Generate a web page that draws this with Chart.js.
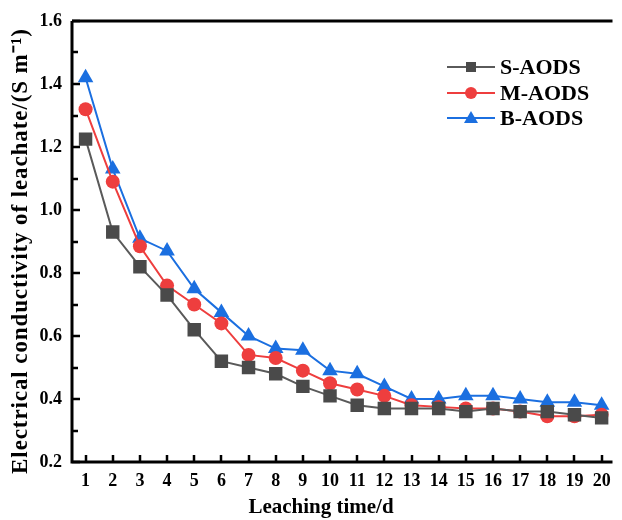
<!DOCTYPE html>
<html>
<head>
<meta charset="utf-8">
<script src="https://cdn.jsdelivr.net/npm/chart.js@4"></script>
<style>
  body { margin: 0; background: #fff; }
  #box { width: 622px; height: 520px; }
</style>
</head>
<body>
<div id="box"><canvas id="ecChart" width="622" height="520"></canvas></div>
<script>
// 浸出時間（日）
const days = [1, 2, 3, 4, 5, 6, 7, 8, 9, 10, 11, 12, 13, 14, 15, 16, 17, 18, 19, 20];
const sAods = [1.225, 0.93, 0.82, 0.73, 0.62, 0.52, 0.50, 0.48, 0.44, 0.41, 0.38, 0.37, 0.37, 0.37, 0.36, 0.37, 0.36, 0.36, 0.35, 0.34];
const mAods = [1.32, 1.09, 0.885, 0.76, 0.70, 0.64, 0.54, 0.53, 0.49, 0.45, 0.43, 0.41, 0.38, 0.375, 0.37, 0.37, 0.36, 0.345, 0.345, 0.35];
const bAods = [1.42, 1.13, 0.91, 0.87, 0.75, 0.675, 0.60, 0.56, 0.555, 0.49, 0.48, 0.44, 0.40, 0.40, 0.41, 0.41, 0.40, 0.39, 0.39, 0.38];
const yTicks = [0.2, 0.4, 0.6, 0.8, 1.0, 1.2, 1.4, 1.6];
const xTitle = 'Leaching time/d';
const yTitle = 'Electrical conductivity of leachate/(S m\u207B\u00B9)';

const serif = '"Liberation Serif", "Times New Roman", serif';

function toXY(ys) {
  return ys.map((v, i) => ({ x: days[i], y: v }));
}

const series = [
  { label: 'S-AODS', data: sAods, color: '#4a4a4a', line: '#5a5a5a', style: 'rect', r: 9.5 },
  { label: 'M-AODS', data: mAods, color: '#ee3e3e', line: '#ee3e3e', style: 'circle', r: 7 },
  { label: 'B-AODS', data: bAods, color: '#1b6fe0', line: '#1b6fe0', style: 'triangle', r: 9 }
];

// 軸線・内向き目盛・凡例・軸タイトル
const framePlugin = {
  id: 'frame',
  afterDraw(chart) {
    const ctx = chart.ctx;
    const a = chart.chartArea;
    const xs = chart.scales.x, ys = chart.scales.y;
    ctx.save();
    ctx.strokeStyle = '#000';
    ctx.lineWidth = 3;
    ctx.beginPath();
    ctx.moveTo(a.left, a.top);
    ctx.lineTo(a.right, a.top);
    ctx.moveTo(a.left, a.top);
    ctx.lineTo(a.left, a.bottom);
    ctx.lineTo(a.right, a.bottom);
    ctx.stroke();

    ctx.lineWidth = 2.5;
    ctx.beginPath();
    for (let v = 0.2; v <= 1.6001; v += 0.1) {
      const py = Math.round(ys.getPixelForValue(v));
      const major = Math.round(v * 10) % 2 === 0;
      ctx.moveTo(a.left, py);
      ctx.lineTo(a.left + (major ? 8 : 6), py);
    }
    days.forEach(d => {
      const px = Math.round(xs.getPixelForValue(d));
      ctx.moveTo(px, a.bottom);
      ctx.lineTo(px, a.bottom - 7);
    });
    ctx.stroke();

    // x軸タイトル
    ctx.fillStyle = '#000';
    ctx.font = 'bold 21px ' + serif;
    ctx.textAlign = 'center';
    ctx.textBaseline = 'middle';
    ctx.fillText(xTitle, 321, 508);

    // y軸タイトル
    ctx.save();
    ctx.translate(21, 251);
    ctx.rotate(-Math.PI / 2);
    ctx.font = 'bold 23px ' + serif;
    ctx.letterSpacing = '0.9px';
    ctx.fillText(yTitle, 0, 0);
    ctx.restore();

    // 凡例
    const lx0 = 447, lx1 = 495, tx = 500;
    const rows = [67, 93, 118];
    ctx.font = 'bold 22px ' + serif;
    ctx.textAlign = 'left';
    series.forEach((s, i) => {
      const y = rows[i];
      ctx.strokeStyle = s.line;
      ctx.lineWidth = 2;
      ctx.beginPath();
      ctx.moveTo(lx0, y);
      ctx.lineTo(lx1, y);
      ctx.stroke();
      ctx.fillStyle = s.color;
      const cx = (lx0 + lx1) / 2;
      ctx.beginPath();
      if (s.style === 'rect') {
        ctx.rect(cx - 5, y - 5, 10, 10);
      } else if (s.style === 'circle') {
        ctx.arc(cx, y, 6, 0, Math.PI * 2);
      } else {
        ctx.moveTo(cx, y - 7);
        ctx.lineTo(cx + 7, y + 5);
        ctx.lineTo(cx - 7, y + 5);
        ctx.closePath();
      }
      ctx.fill();
      ctx.fillStyle = '#000';
      ctx.fillText(s.label, tx, y + 1);
    });
    ctx.restore();
  }
};

const ctx = document.getElementById('ecChart').getContext('2d');
window.ecChart = new Chart(ctx, {
  type: 'line',
  data: {
    datasets: series.map(s => ({
      label: s.label,
      data: toXY(s.data),
      borderColor: s.line,
      backgroundColor: s.color,
      borderWidth: 2,
      pointStyle: s.style,
      pointRadius: s.r,
      pointHoverRadius: s.r,
      pointBorderWidth: 0,
      tension: 0
    }))
  },
  options: {
    responsive: false,
    animation: false,
    layout: { padding: { top: 21, right: 0, left: 0, bottom: 0 } },
    plugins: {
      legend: { display: false },
      tooltip: { enabled: false }
    },
    scales: {
      x: {
        type: 'linear',
        min: 0.5,
        max: 20.4,
        afterBuildTicks(scale) {
          scale.ticks = days.map(v => ({ value: v }));
        },
        afterFit(scale) { scale.height = 58; },
        grid: { display: false, drawTicks: false },
        border: { display: false },
        ticks: {
          padding: 9,
          color: '#000',
          font: { family: serif, size: 18, weight: 'bold' }
        }
      },
      y: {
        min: 0.2,
        max: 1.6,
        afterBuildTicks(scale) {
          scale.ticks = yTicks.map(v => ({ value: v }));
        },
        afterFit(scale) { scale.width = 72; },
        grid: { display: false, drawTicks: false },
        border: { display: false },
        ticks: {
          padding: 10,
          color: '#000',
          font: { family: serif, size: 18, weight: 'bold' },
          callback: v => v.toFixed(1)
        }
      }
    }
  },
  plugins: [framePlugin]
});
</script>
</body>
</html>
